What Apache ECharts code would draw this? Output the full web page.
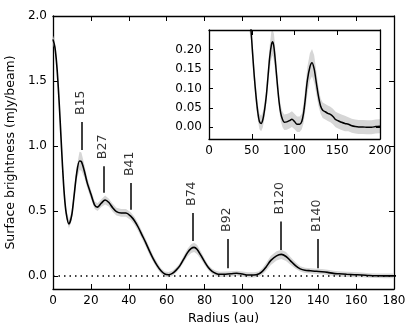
<!DOCTYPE html>
<html>
<head>
<meta charset="utf-8">
<script src="https://cdn.jsdelivr.net/npm/echarts@6/dist/echarts.min.js"></script>
<style>html,body{margin:0;padding:0;background:#fff}#c{width:416px;height:335px}</style>
</head>
<body>
<div id="c"></div>
<script>
// Radial profile (au), surface brightness (mJy/beam), uncertainty (mJy/beam)
var radii = [0,1,2,3,4,5,6,7,8.4,9.8,11,12.5,14,15,16.5,18,20,22,23.5,25.5,27.5,29.5,31.5,33.5,36,38.5,41,43,45,47,49,51,53,55,57,59,61,63,65,67,69,71,73,74.5,76,78,80,82,84,86,88,91,94,97,100,103,106,108.5,110.5,112.5,115,118,120.5,123,125.5,128,130.5,133,136,139,142,145,148,151,155,159,163,167,171,175,180,185,190,195,200];
var brightness = [1.82,1.76,1.62,1.40,1.13,0.85,0.62,0.48,0.40,0.46,0.60,0.79,0.885,0.88,0.81,0.72,0.63,0.545,0.53,0.56,0.585,0.565,0.525,0.495,0.485,0.485,0.46,0.425,0.375,0.315,0.255,0.19,0.13,0.08,0.04,0.015,0.01,0.02,0.045,0.08,0.13,0.18,0.212,0.22,0.205,0.16,0.11,0.065,0.035,0.02,0.013,0.014,0.017,0.021,0.015,0.008,0.008,0.015,0.035,0.07,0.12,0.155,0.166,0.15,0.115,0.08,0.055,0.044,0.04,0.036,0.033,0.028,0.02,0.017,0.013,0.01,0.008,0.004,0.002,0.001,0.001,0.0,0.0,0.002,0.003];
var uncertainty = [0.03,0.03,0.03,0.03,0.03,0.03,0.03,0.03,0.035,0.035,0.04,0.05,0.07,0.07,0.05,0.04,0.035,0.03,0.03,0.03,0.035,0.03,0.03,0.03,0.03,0.03,0.03,0.03,0.03,0.03,0.03,0.03,0.025,0.025,0.02,0.02,0.02,0.02,0.02,0.02,0.025,0.03,0.035,0.035,0.035,0.03,0.025,0.02,0.02,0.02,0.02,0.02,0.02,0.02,0.02,0.02,0.02,0.02,0.025,0.03,0.035,0.035,0.035,0.035,0.03,0.025,0.02,0.02,0.02,0.02,0.02,0.02,0.02,0.02,0.02,0.02,0.018,0.018,0.018,0.018,0.018,0.018,0.018,0.018,0.018];

// Annotated features
var featureNames = ['B15','B27','B41','B74','B92','B120','B140'];
var featureRadii = [15,27,41,74,92,120,140];
var featureLineBottom = [0.97,0.64,0.51,0.27,0.06,0.20,0.06];
var featureLineTop = [1.185,0.845,0.715,0.485,0.285,0.42,0.285];

// Tick labels
var mainXTicks = [0,20,40,60,80,100,120,140,160,180];
var mainYTicks = [0,0.5,1.0,1.5,2.0];
var insetXTicks = [0,50,100,150,200];
var insetYTicks = [0,0.05,0.10,0.15,0.20];

var FONT = 'DejaVu Sans';
var chart = echarts.init(document.getElementById('c'));

function pts(ys) { return radii.map(function (r, i) { return [r, ys[i]]; }); }

function axisCommon(extra) {
  var base = {
    type: 'value',
    axisLine: { show: true, onZero: false, lineStyle: { color: '#000', width: 1.3 } },
    axisTick: { show: true, inside: true, length: 5, lineStyle: { color: '#000', width: 1 } },
    axisLabel: { show: false, color: '#000', fontFamily: FONT, fontSize: 12 },
    splitLine: { show: false }
  };
  return Object.assign(base, extra);
}

// uncertainty band drawn as a polygon through the axis scales
function bandSeries(xi, yi, z) {
  return {
    type: 'custom', xAxisIndex: xi, yAxisIndex: yi, z: z, silent: true,
    data: [[radii[0], brightness[0]]],
    renderItem: function (params, api) {
      var up = [], lo = [];
      for (var i = 0; i < radii.length; i++) {
        up.push(api.coord([radii[i], brightness[i] + uncertainty[i]]));
        lo.push(api.coord([radii[i], brightness[i] - uncertainty[i]]));
      }
      var poly = up.concat(lo.reverse());
      var cs = params.coordSys;
      poly = echarts.graphic.clipPointsByRect(poly, { x: cs.x, y: cs.y, width: cs.width, height: cs.height });
      return { type: 'polygon', shape: { points: poly }, style: { fill: '#d6d6d6', stroke: null } };
    }
  };
}

var annotationLines = featureRadii.map(function (r, i) {
  return [{ coord: [r, featureLineBottom[i]] }, { coord: [r, featureLineTop[i]] }];
});
var zeroDot = { type: [1.5, 4], color: '#000', width: 1.5 };

var series = [];
series.push(bandSeries(0, 0, 2));
series.push({
  type: 'line', xAxisIndex: 0, yAxisIndex: 0, data: pts(brightness), smooth: 0.3,
  showSymbol: false, symbol: 'none', lineStyle: { color: '#000', width: 1.6 }, z: 3, silent: true,
  markLine: {
    silent: true, symbol: 'none', animation: false, label: { show: false },
    lineStyle: { color: '#000', width: 1.5, type: 'solid' },
    data: [{ yAxis: 0, lineStyle: zeroDot }].concat(annotationLines)
  }
});
series.push({
  type: 'scatter', xAxisIndex: 0, yAxisIndex: 0, symbolSize: 0, silent: true, z: 4,
  data: featureNames.map(function (n, i) { return { name: n, value: [featureRadii[i], featureLineTop[i]] }; }),
  label: { show: true, formatter: '{b}', position: 'inside', rotate: 90, align: 'left', verticalAlign: 'middle',
    offset: [7, -1], color: '#000', fontFamily: FONT, fontSize: 12.5 }
});
series.push(bandSeries(2, 2, 12));
series.push({
  type: 'line', xAxisIndex: 2, yAxisIndex: 2, data: pts(brightness), smooth: 0.3,
  showSymbol: false, symbol: 'none', lineStyle: { color: '#000', width: 1.5 }, z: 13, silent: true,
  markLine: {
    silent: true, symbol: 'none', animation: false, label: { show: false },
    data: [{ yAxis: 0, lineStyle: zeroDot }]
  }
});

var option = {
  animation: false,
  backgroundColor: '#fff',
  grid: [
    { left: 53, top: 16, right: 22, bottom: 46, show: false, outerBoundsMode: 'none' },
    { left: 209, top: 30, right: 36, bottom: 196, show: true, backgroundColor: '#fff', borderWidth: 0, z: 10, outerBoundsMode: 'none' }
  ],
  xAxis: [
    axisCommon({ gridIndex: 0, position: 'bottom', min: 0, max: 180, interval: 20,
      axisLabel: { show: true, color: '#000', fontFamily: FONT, fontSize: 12, margin: 6, customValues: mainXTicks },
      axisTick: { show: true, inside: true, length: 5, customValues: mainXTicks, lineStyle: { color: '#000', width: 1 } },
      name: 'Radius (au)', nameLocation: 'middle', nameGap: 23,
      nameTextStyle: { color: '#000', fontFamily: FONT, fontSize: 12.5 } }),
    axisCommon({ gridIndex: 0, position: 'top', min: 0, max: 180, interval: 20 }),
    axisCommon({ gridIndex: 1, position: 'bottom', min: 0, max: 200, interval: 50, z: 14,
      axisLabel: { show: true, color: '#000', fontFamily: FONT, fontSize: 12, margin: 6, customValues: insetXTicks } }),
    axisCommon({ gridIndex: 1, position: 'top', min: 0, max: 200, interval: 50, z: 14 })
  ],
  yAxis: [
    axisCommon({ gridIndex: 0, position: 'left', min: -0.1, max: 2.0,
      axisLabel: { show: true, color: '#000', fontFamily: FONT, fontSize: 12, margin: 6, customValues: mainYTicks,
        formatter: function (v) { return v.toFixed(1); } },
      axisTick: { show: true, inside: true, length: 5, customValues: mainYTicks, lineStyle: { color: '#000', width: 1 } },
      name: 'Surface brightness (mJy/beam)', nameLocation: 'middle', nameGap: 28, nameRotate: 90,
      nameTextStyle: { color: '#000', fontFamily: FONT, fontSize: 12.5 } }),
    axisCommon({ gridIndex: 0, position: 'right', min: -0.1, max: 2.0,
      axisTick: { show: true, inside: true, length: 5, customValues: mainYTicks, lineStyle: { color: '#000', width: 1 } } }),
    axisCommon({ gridIndex: 1, position: 'left', min: -0.03, max: 0.25, z: 14,
      axisLabel: { show: true, color: '#000', fontFamily: FONT, fontSize: 12, margin: 7, customValues: insetYTicks,
        formatter: function (v) { return v.toFixed(2); } },
      axisTick: { show: true, inside: true, length: 4, customValues: insetYTicks, lineStyle: { color: '#000', width: 1 } } }),
    axisCommon({ gridIndex: 1, position: 'right', min: -0.03, max: 0.25, z: 14,
      axisTick: { show: true, inside: true, length: 4, customValues: insetYTicks, lineStyle: { color: '#000', width: 1 } } })
  ],
  series: series
};
chart.setOption(option);
</script>
</body>
</html>
